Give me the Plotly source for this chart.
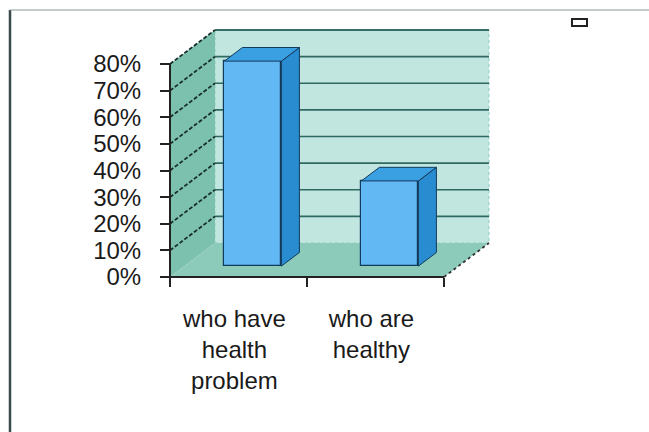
import plotly.graph_objects as go

# ---- data ----
categories = ["who have<br>health<br>problem", "who are<br>healthy"]
values = [77, 32]  # percent
y_ticks = [0, 10, 20, 30, 40, 50, 60, 70, 80]
y_tick_labels = [f"{v}%" for v in y_ticks]

# ---- geometry of the pseudo-3D box (data units) ----
W, H = 649, 432
PX_PER_CAT = 137.0            # pixels per category on x
PX_PER_PCT = 213.0 / 80.0     # pixels per percent on y
DX = 45 / PX_PER_CAT          # depth offset, x
DY = 34 / PX_PER_PCT          # depth offset, y
WALL_TOP = 80
BW = 57 / PX_PER_CAT          # bar width
F0 = 0.32                     # depth position of the bar front face
FD = 0.40                     # bar depth (fraction of box depth)

# plot area in pixels
L, R, T, B = 150, 510, 15, 290
AX_X, AX_Y = 170, 277          # where the value axis / category axis sit
pw, ph = R - L, B - T
x0 = -0.5 - (AX_X - L) / PX_PER_CAT
x1 = x0 + pw / PX_PER_CAT
y0 = -(B - AX_Y) / PX_PER_PCT
y1 = y0 + ph / PX_PER_PCT

XL, XR = -0.5, len(categories) - 0.5

BACK = "#c1e6df"
SIDE = "#7cc1ae"
FLOOR = "#8ccab9"
GRID = "#2f6a62"
FRONT = "#62b8f3"
BSIDE = "#2a8cd0"
BTOP = "#3ba0e2"
EDGE = "#123a5c"


def poly(pts):
    return "M " + " L ".join(f"{x},{y}" for x, y in pts) + " Z"


shapes = []
# walls
shapes.append(dict(type="path", xref="x", yref="y", layer="below",
                   path=poly([(XL + DX, DY), (XR + DX, DY), (XR + DX, WALL_TOP + DY), (XL + DX, WALL_TOP + DY)]),
                   fillcolor=BACK, line=dict(color="#8fcdc2", width=1, dash="dot")))
shapes.append(dict(type="path", xref="x", yref="y", layer="below",
                   path=poly([(XL, 0), (XL + DX, DY), (XL + DX, WALL_TOP + DY), (XL, WALL_TOP)]),
                   fillcolor=SIDE, line=dict(width=0)))
shapes.append(dict(type="path", xref="x", yref="y", layer="below",
                   path=poly([(XL, 0), (XR, 0), (XR + DX, DY), (XL + DX, DY)]),
                   fillcolor=FLOOR, line=dict(width=0)))
# back wall top edge
shapes.append(dict(type="line", xref="x", yref="y", layer="below",
                   x0=XL + DX, y0=WALL_TOP + DY, x1=XR + DX, y1=WALL_TOP + DY,
                   line=dict(color="#2a5a55", width=1.6)))
# floor right edge
shapes.append(dict(type="line", xref="x", yref="y", layer="below",
                   x0=XR, y0=0, x1=XR + DX, y1=DY, line=dict(color="#333", width=1.8, dash="dot")))
# gridlines: back wall (solid) and side wall (dashed)
for v in y_ticks[1:]:
    shapes.append(dict(type="line", xref="x", yref="y", layer="below",
                       x0=XL + DX, y0=v + DY, x1=XR + DX, y1=v + DY,
                       line=dict(color=GRID, width=1.6)))
    shapes.append(dict(type="line", xref="x", yref="y", layer="below",
                       x0=XL, y0=v, x1=XL + DX, y1=v + DY,
                       line=dict(color="#182f2b", width=1.8, dash="4px,2px")))
# axis lines
shapes.append(dict(type="line", xref="x", yref="y", x0=XL, y0=0, x1=XL, y1=WALL_TOP,
                   line=dict(color="#222", width=2)))
shapes.append(dict(type="line", xref="x", yref="y", x0=XL, y0=0, x1=XR, y1=0,
                   line=dict(color="#222", width=2)))

# outer frame and empty legend key (paper coordinates)
def px(xp):
    return (xp - L) / pw


def py(yp):
    return (B - yp) / ph


shapes.append(dict(type="line", xref="paper", yref="paper", x0=px(10), y0=py(10), x1=px(10), y1=py(H + 5),
                   line=dict(color="#3a4a4a", width=2.5)))
shapes.append(dict(type="line", xref="paper", yref="paper", x0=px(10), y0=py(10), x1=px(W + 5), y1=py(10),
                   line=dict(color="#8a9a98", width=1.2)))
shapes.append(dict(type="rect", xref="paper", yref="paper", x0=px(572), y0=py(19), x1=px(587), y1=py(26),
                   fillcolor="white", line=dict(color="#222", width=2)))

fig = go.Figure()

# front faces of the columns
xs = [i + F0 * DX for i in range(len(values))]
base = F0 * DY
fig.add_trace(go.Bar(x=xs, y=values, base=[base] * len(values), width=BW,
                     marker=dict(color=FRONT, line=dict(color=EDGE, width=1.2)),
                     hoverinfo="skip", showlegend=False))

# side and top faces of the columns
for xc, v in zip(xs, values):
    xl, xr = xc - BW / 2, xc + BW / 2
    ddx, ddy = FD * DX, FD * DY
    top = base + v
    fig.add_trace(go.Scatter(
        x=[xr, xr + ddx, xr + ddx, xr, xr],
        y=[base, base + ddy, top + ddy, top, base],
        fill="toself", fillcolor=BSIDE, mode="lines",
        line=dict(color=EDGE, width=1), hoverinfo="skip", showlegend=False))
    fig.add_trace(go.Scatter(
        x=[xl, xr, xr + ddx, xl + ddx, xl],
        y=[top, top, top + ddy, top + ddy, top],
        fill="toself", fillcolor=BTOP, mode="lines",
        line=dict(color=EDGE, width=1), hoverinfo="skip", showlegend=False))

font = dict(family="Liberation Sans, Arial, sans-serif", size=24, color="#1a1a1a")

fig.update_layout(
    width=W, height=H,
    margin=dict(l=L, r=W - R, t=T, b=H - B),
    paper_bgcolor="white", plot_bgcolor="rgba(0,0,0,0)",
    shapes=shapes, showlegend=False, bargap=0,
    xaxis=dict(range=[x0, x1], anchor="free", position=py(AX_Y),
               tickvals=[-0.5, 0.5, 1.5], ticktext=["", "", ""],
               ticks="outside", ticklen=9, tickwidth=2, tickcolor="#222",
               showgrid=False, zeroline=False, showline=False, fixedrange=True),
    xaxis2=dict(range=[x0 + 0.03, x1 + 0.03], overlaying="x", anchor="free", position=py(AX_Y), side="bottom",
                tickvals=list(range(len(categories))), ticktext=categories,
                ticks="", tickfont=font, ticklabelstandoff=25,
                showgrid=False, zeroline=False, showline=False, fixedrange=True),
    yaxis=dict(range=[y0, y1], anchor="free", position=px(AX_X),
               tickvals=y_ticks, ticktext=y_tick_labels,
               ticks="outside", ticklen=10, tickwidth=2, tickcolor="#222",
               tickfont=font, ticklabelstandoff=14,
               showgrid=False, zeroline=False, showline=False, fixedrange=True),
)

# an invisible trace so the category axis is drawn
fig.add_trace(go.Scatter(x=[0, 1], y=[None, None], xaxis="x2", mode="markers",
                         hoverinfo="skip", showlegend=False))

fig.write_html("out.html")
